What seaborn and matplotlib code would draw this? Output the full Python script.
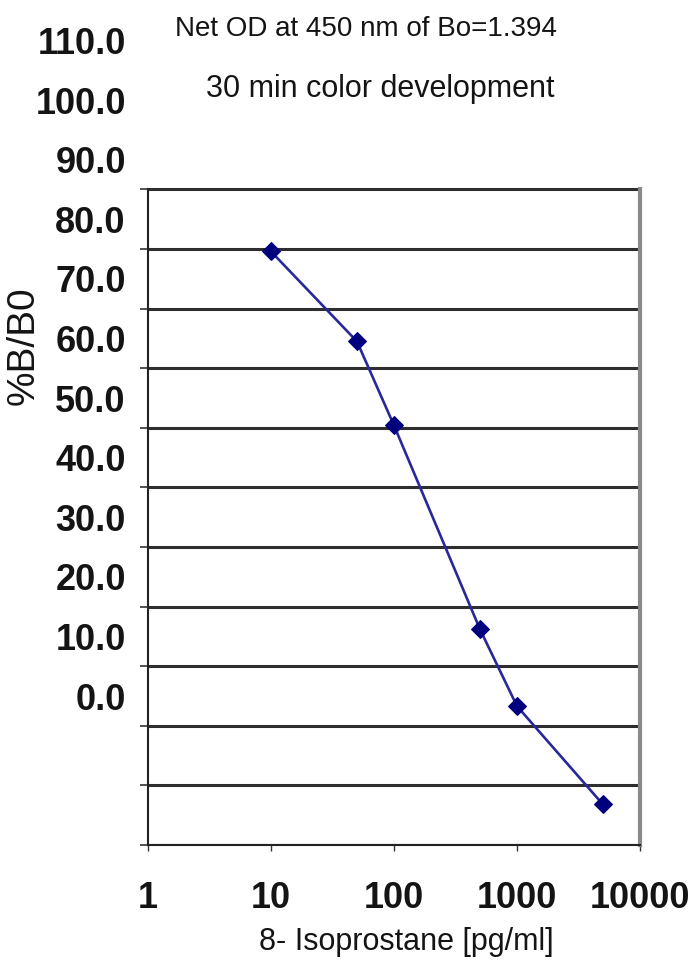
import matplotlib
matplotlib.use("Agg")
import matplotlib.pyplot as plt
from matplotlib.ticker import FixedLocator, LogLocator, NullFormatter
import pandas as pd
import seaborn as sns

# standard curve points (x in pg/ml, y read against the printed labels)
CONCENTRATION = [10, 50, 100, 500, 1000, 5000]
PCT_B_B0 = [74.6, 59.5, 45.4, 11.2, -1.7, -18.2]

X_TICKS = [1, 10, 100, 1000, 10000]
X_TICK_LABELS = ["1", "10", "100", "1000", "10000"]
Y_TICKS = [0, 10, 20, 30, 40, 50, 60, 70, 80, 90, 100, 110]
Y_TICK_LABELS = ["0.0", "10.0", "20.0", "30.0", "40.0", "50.0", "60.0",
                 "70.0", "80.0", "90.0", "100.0", "110.0"]
GRID_LEVELS = [-25, -15, -5, 5, 15, 25, 35, 45, 55, 65, 75, 85]

TITLE_LINES = ["Net OD at 450 nm of Bo=1.394", "30 min color development"]
X_LABEL = "8- Isoprostane [pg/ml]"
Y_LABEL = "%B/B0"

NAVY = "#00007f"
TEXT = "#141414"
FONT = ["Liberation Sans", "DejaVu Sans"]

sns.set_style("white")
plt.rcParams["font.family"] = FONT
plt.rcParams["text.color"] = TEXT
plt.rcParams["xtick.color"] = TEXT
plt.rcParams["ytick.color"] = TEXT

df = pd.DataFrame({"conc": CONCENTRATION, "pct": PCT_B_B0})

W, H = 698, 972
fig = plt.figure(figsize=(W / 100, H / 100), dpi=100)
ax = fig.add_axes([148 / W, 1 - 845 / H, (640 - 148) / W, 845 / H])
ax.patch.set_alpha(0)

ax.set_xscale("log")
sns.lineplot(data=df, x="conc", y="pct", ax=ax, color="#28289a", lw=1.9,
             marker="D", markersize=9.5, markerfacecolor=NAVY,
             markeredgecolor=NAVY, zorder=5)

ax.set_xlim(1, 10000)
ax.set_ylim(-25, 116.8)

# x axis: decades plus minor log ticks
ax.xaxis.set_major_locator(FixedLocator(X_TICKS))
ax.set_xticklabels(X_TICK_LABELS)
ax.xaxis.set_minor_locator(LogLocator(base=10, subs=range(2, 10)))
ax.xaxis.set_minor_formatter(NullFormatter())
ax.tick_params(axis="x", which="both", bottom=True, direction="out",
               length=4, width=1, color="#333333")
ax.tick_params(axis="x", which="major", labelsize=26, pad=22)

# y axis: labels and gridlines sit on different levels
ax.yaxis.set_major_locator(FixedLocator(Y_TICKS))
ax.set_yticklabels(Y_TICK_LABELS)
ax.yaxis.set_minor_locator(FixedLocator(GRID_LEVELS))
ax.tick_params(axis="y", which="major", left=False, length=0,
               labelsize=26, pad=16)
ax.tick_params(axis="y", which="minor", left=True, direction="out",
               length=6, width=1.2, color="#333333")
ax.grid(False)
ax.grid(which="minor", axis="y", color="#2e2e2e", lw=2.2)

for lab in ax.get_xticklabels() + ax.get_yticklabels():
    lab.set_fontweight("bold")

ax.spines["top"].set_visible(False)
ax.spines["left"].set_bounds(GRID_LEVELS[0], GRID_LEVELS[-1])
ax.spines["left"].set_color("#222222")
ax.spines["left"].set_linewidth(1.5)
ax.spines["right"].set_bounds(GRID_LEVELS[0], GRID_LEVELS[-1])
ax.spines["right"].set_color("#8a8a8a")
ax.spines["right"].set_linewidth(3)
ax.spines["bottom"].set_color("#222222")
ax.spines["bottom"].set_linewidth(1.5)

ax.set_xlabel("")
ax.set_ylabel("")

fig.text(366 / W, 1 - 29 / H, TITLE_LINES[0], ha="center", va="center",
         fontsize=20)
fig.text(380 / W, 1 - 89 / H, TITLE_LINES[1], ha="center", va="center",
         fontsize=22)
fig.text(406 / W, 1 - 942 / H, X_LABEL, ha="center", va="center",
         fontsize=22)
fig.text(24 / W, 1 - 346 / H, Y_LABEL, ha="center", va="center",
         rotation=90, fontsize=28)

fig.savefig("out.png", dpi=100)
